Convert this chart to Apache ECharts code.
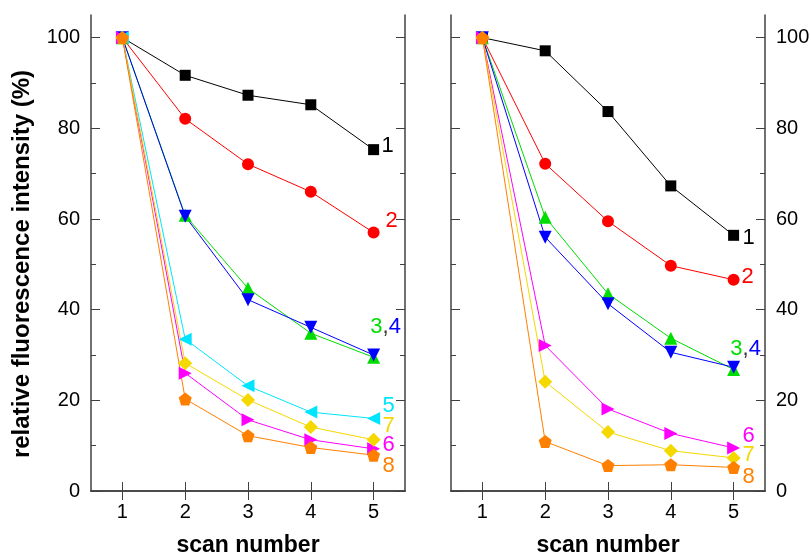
<!DOCTYPE html>
<html>
<head>
<meta charset="utf-8">
<script src="https://cdn.jsdelivr.net/npm/echarts@6/dist/echarts.min.js"></script>
<style>
  html, body { margin: 0; padding: 0; background: #fff; }
  #chart { width: 811px; height: 558px; }
</style>
</head>
<body>
<div id="chart"></div>
<script>
// Scan numbers along x and intensity ticks along y
const scans = [1, 2, 3, 4, 5];
const yMajorTicks = [0, 20, 40, 60, 80, 100];
const yMinorTicks = [10, 30, 50, 70, 90];

// Left panel: relative fluorescence intensity (%) per scan
const leftS1 = [100, 91.7, 87.3, 85.2, 75.3];
const leftS2 = [100, 82.1, 72.1, 66.0, 57.0];
const leftS3 = [100, 60.8, 44.7, 34.8, 29.5];
const leftS4 = [100, 60.6, 42.2, 36.1, 30.0];
const leftS5 = [100, 33.5, 23.2, 17.4, 16.0];
const leftS6 = [100, 26.0, 15.7, 11.3, 9.3];
const leftS7 = [100, 28.2, 20.1, 14.1, 11.3];
const leftS8 = [100, 20.3, 12.2, 9.6, 7.9];

// Right panel
const rightS1 = [100, 97.1, 83.7, 67.3, 56.4];
const rightS2 = [100, 72.2, 59.5, 49.7, 46.6];
const rightS3 = [100, 60.4, 43.5, 33.7, 26.8];
const rightS4 = [100, 56.0, 41.3, 30.6, 27.3];
const rightS6 = [100, 32.1, 18.1, 12.7, 9.5];
const rightS7 = [100, 24.1, 13.0, 8.9, 7.3];
const rightS8 = [100, 10.9, 5.6, 5.8, 5.2];

const seriesNames = ['1', '2', '3', '4', '5', '6', '7', '8'];

const COLORS = {
  '1': '#000000', '2': '#ff0000', '3': '#00dd00', '4': '#0000ff',
  '5': '#00e5ff', '6': '#ff00ff', '7': '#f5d800', '8': '#ff8000'
};
const PENTAGON = 'path://M0,-1 L0.951,-0.309 L0.588,0.809 L-0.588,0.809 L-0.951,-0.309 Z';
const SYMBOLS = {
  '1': { symbol: 'rect', size: 11, rotate: 0 },
  '2': { symbol: 'circle', size: 12, rotate: 0 },
  '3': { symbol: 'triangle', size: 13, rotate: 0 },
  '4': { symbol: 'triangle', size: 13, rotate: 180 },
  '5': { symbol: 'triangle', size: 13, rotate: 90 },
  '6': { symbol: 'triangle', size: 13, rotate: -90 },
  '7': { symbol: 'diamond', size: 14, rotate: 0 },
  '8': { symbol: PENTAGON, size: 13, rotate: 0 }
};

const FONT = '"Liberation Sans", Arial, sans-serif';
const FRAME = '#404040';
const LABEL_SIZE = 22;

// end-of-line label offsets (relative to the last point)
const leftLabels = {
  '1': [14, -4], '2': [18, -12], '4': [12, -28],
  '5': [15, -13], '6': [15, -4], '7': [15, -14], '8': [15, 11]
};
const rightLabels = {
  '1': [15, 3], '2': [14, -3], '4': [12, -18],
  '6': [15, -12], '7': [15, -3], '8': [15, 10]
};

function makeSeries(name, values, gridIndex, labelOffsets) {
  const s = SYMBOLS[name];
  const color = COLORS[name];
  const data = values.map((v, i) => {
    const item = { value: [scans[i], v] };
    if (i === values.length - 1 && labelOffsets[name]) {
      const lbl = {
        show: true,
        position: 'inside',
        offset: labelOffsets[name],
        fontSize: LABEL_SIZE,
        fontFamily: FONT,
        color: color
      };
      if (name === '4') {
        lbl.formatter = '{g|3}{k|,}{b|4}';
        lbl.rich = {
          g: { color: COLORS['3'], fontSize: LABEL_SIZE, fontFamily: FONT },
          k: { color: '#333', fontSize: LABEL_SIZE, fontFamily: FONT },
          b: { color: COLORS['4'], fontSize: LABEL_SIZE, fontFamily: FONT }
        };
      } else {
        lbl.formatter = name;
      }
      item.label = lbl;
    }
    return item;
  });
  return {
    type: 'line',
    name: name,
    xAxisIndex: gridIndex * 2,
    yAxisIndex: gridIndex * 4,
    data: data,
    symbol: s.symbol,
    symbolSize: s.size,
    symbolRotate: s.rotate,
    showAllSymbol: true,
    lineStyle: { color: color, width: 1 },
    itemStyle: { color: color },
    emphasis: { disabled: true },
    animation: false
  };
}

function xAxes(gridIndex) {
  const base = {
    type: 'value', gridIndex: gridIndex, min: 0.5, max: 5.5,
    splitLine: { show: false },
    axisLine: { show: true, lineStyle: { color: FRAME, width: 1.5 } },
    axisTick: { show: true, inside: true, length: 9, customValues: scans,
      lineStyle: { color: FRAME, width: 1 } }
  };
  return [
    Object.assign({}, base, {
      position: 'bottom',
      name: 'scan number', nameLocation: 'middle', nameGap: 43,
      nameTextStyle: { fontSize: 23, fontWeight: 'bold', fontFamily: FONT, color: '#000' },
      axisLabel: { show: true, customValues: scans, margin: 11,
        fontSize: 20, fontFamily: FONT, color: '#000' }
    }),
    Object.assign({}, base, { position: 'top', axisLabel: { show: false } })
  ];
}

function yAxes(gridIndex, labelSide) {
  const line = { show: true, lineStyle: { color: FRAME, width: 1.5 } };
  const tickStyle = { color: FRAME, width: 1 };
  const out = [];
  ['left', 'right'].forEach(side => {
    const major = {
      type: 'value', gridIndex: gridIndex, position: side, min: 0, max: 105,
      splitLine: { show: false }, axisLine: line,
      axisTick: { show: true, inside: true, length: 9, customValues: yMajorTicks, lineStyle: tickStyle },
      axisLabel: side === labelSide
        ? { show: true, customValues: yMajorTicks, margin: 11, fontSize: 20, fontFamily: FONT, color: '#000' }
        : { show: false }
    };
    if (gridIndex === 0 && side === 'left') {
      major.name = 'relative fluorescence intensity (%)';
      major.nameLocation = 'middle';
      major.nameGap = 57;
      major.nameTextStyle = { fontSize: 24, fontWeight: 'bold', fontFamily: FONT, color: '#000',
        padding: [0, 22, 0, 0] };
    }
    const minor = {
      type: 'value', gridIndex: gridIndex, position: side, min: 0, max: 105,
      splitLine: { show: false }, axisLine: { show: false },
      axisTick: { show: true, inside: true, length: 5, customValues: yMinorTicks, lineStyle: tickStyle },
      axisLabel: { show: false }
    };
    out.push(major, minor);
  });
  return out;
}

const leftData = { '1': leftS1, '2': leftS2, '3': leftS3, '4': leftS4,
  '5': leftS5, '6': leftS6, '7': leftS7, '8': leftS8 };
const rightData = { '1': rightS1, '2': rightS2, '3': rightS3, '4': rightS4,
  '6': rightS6, '7': rightS7, '8': rightS8 };

const series = [];
seriesNames.forEach(n => { if (leftData[n]) series.push(makeSeries(n, leftData[n], 0, leftLabels)); });
seriesNames.forEach(n => { if (rightData[n]) series.push(makeSeries(n, rightData[n], 1, rightLabels)); });

const chart = echarts.init(document.getElementById('chart'), null, { renderer: 'canvas' });
chart.setOption({
  backgroundColor: '#fff',
  animation: false,
  grid: [
    { left: 91, top: 15, width: 314, height: 476, outerBoundsMode: 'none' },
    { left: 451, top: 15, width: 314, height: 476, outerBoundsMode: 'none' }
  ],
  xAxis: xAxes(0).concat(xAxes(1)),
  yAxis: yAxes(0, 'left').concat(yAxes(1, 'right')),
  series: series
});
</script>
</body>
</html>
